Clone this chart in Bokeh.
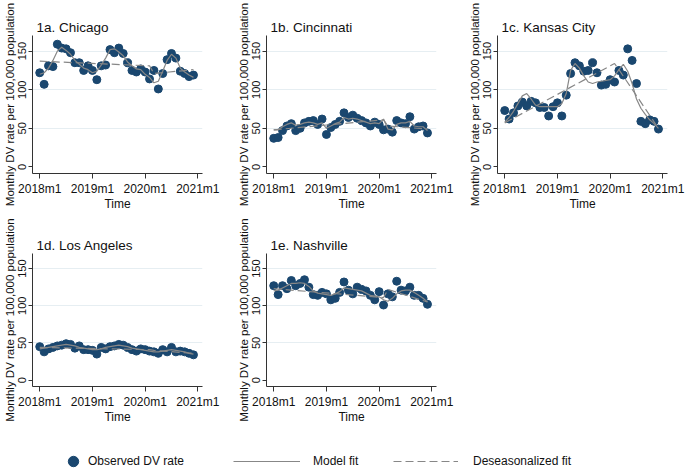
from bokeh.plotting import figure
from bokeh.layouts import column, row
from bokeh.models import Range1d, FixedTicker, Legend, LegendItem
from bokeh.embed import file_html
from bokeh.resources import INLINE

# ---------------- data ----------------
months = list(range(36))                      # 2018m1 ... 2020m12 (time index)
x_tick_pos = [0, 12, 24, 36]
x_tick_labels = ["2018m1", "2019m1", "2020m1", "2021m1"]
y_ticks = [0, 50, 100, 150]
ds_months = [0, 25, 26, 35]                   # deseasonalized fit break points (2020m3 interruption)

titles = ["1a. Chicago", "1b. Cincinnati", "1c. Kansas City", "1d. Los Angeles", "1e. Nashville"]

chi_obs = [122, 107, 131, 130, 159, 154, 153, 148, 135, 135, 125, 131,
           125, 113, 131, 132, 152, 148, 154, 147, 135, 125, 123, 127,
           123, 114, 125, 101, 121, 139, 147, 141, 124, 121, 117, 119]
chi_fit = [120, 122, 128, 138, 150, 155, 151, 146, 138, 133, 128, 126,
           122, 124, 132, 141, 152, 153, 149, 144, 136, 131, 127, 126,
           120, 116, 109, 111, 124, 138, 146, 141, 128, 123, 119, 116]
chi_ds = [137, 131, 121, 126]

cin_obs = [37, 38, 47, 53, 56, 47, 50, 57, 59, 60, 55, 62,
           42, 51, 55, 59, 70, 64, 67, 63, 60, 57, 53, 58,
           55, 48, 49, 45, 60, 57, 56, 65, 49, 52, 53, 44]
cin_fit = [48, 48, 52, 55, 57, 54, 55, 57, 58, 57, 55, 57,
           50, 53, 56, 58, 64, 62, 63, 62, 60, 58, 56, 57,
           56, 62, 49, 48, 55, 57, 57, 59, 53, 52, 52, 47]
cin_ds = [48, 61, 53, 49]

kc_obs = [73, 62, 70, 79, 84, 79, 85, 83, 77, 77, 66, 78,
          83, 66, 93, 121, 135, 131, 124, 125, 135, 122, 106, 107,
          113, 110, 125, 119, 153, 138, 108, 59, 56, 61, 59, 49]
kc_fit = [58, 64, 72, 82, 92, 95, 88, 80, 78, 78, 78, 78,
          78, 82, 95, 125, 134, 128, 118, 110, 108, 110, 111, 112,
          113, 118, 126, 133, 124, 108, 88, 76, 68, 61, 56, 50]
kc_ds = [57, 134, 126, 50]

la_obs = [45, 38, 42, 44, 46, 47, 49, 48, 43, 46, 41, 41,
          40, 35, 44, 42, 45, 46, 48, 47, 44, 41, 39, 42,
          41, 39, 38, 36, 41, 38, 44, 38, 39, 38, 36, 34]
la_fit = [42, 43, 44, 45, 46, 47, 48, 47, 46, 44, 43, 42,
          41, 41, 42, 44, 45, 46, 47, 46, 45, 43, 42, 41,
          40, 39, 38, 38, 39, 40, 41, 40, 39, 38, 36, 35]
la_ds = [44, 41, 40, 36]

nash_obs = [127, 115, 127, 123, 134, 127, 130, 135, 125, 115, 114, 118,
            116, 108, 110, 118, 132, 121, 116, 125, 122, 120, 114, 108,
            119, 101, 116, 112, 133, 121, 120, 125, 114, 114, 110, 102]
nash_fit = [120, 121, 124, 127, 130, 130, 131, 130, 126, 120, 117, 116,
            115, 114, 116, 119, 124, 123, 122, 121, 120, 117, 114, 113,
            112, 108, 106, 110, 116, 120, 121, 121, 118, 114, 110, 105]
nash_ds = [123, 111, 122, 105]

legend_labels = ["Observed DV rate", "Model fit", "Deseasonalized fit"]

# ---------------- style ----------------
FONT = "Liberation Sans"
NAVY = "#1a476f"
GRAY = "#878787"
GRID = "#e6eef2"
AXIS = "#333333"
FRAME_W = 170
FRAME_H = 138


def panel(title, obs, fit, ds, left, right, top, bottom):
    p = figure(width=left + FRAME_W + right, height=top + FRAME_H + bottom,
               x_range=Range1d(-1.65, 37.06), y_range=Range1d(-8.6, 170.3),
               output_backend="svg", toolbar_location=None, title=title,
               min_border_left=left, min_border_right=right,
               min_border_top=top, min_border_bottom=bottom)
    p.scatter(months, obs, size=8, fill_color=NAVY, line_color=NAVY)
    p.line(months, fit, line_color=GRAY, line_width=1.2)
    p.line(ds_months, ds, line_color=GRAY, line_width=1.2, line_dash="8 4")

    p.title.text_font = FONT
    p.title.text_font_size = "13.5px"
    p.title.text_font_style = "normal"
    p.title.text_color = "#111111"
    p.title.offset = 4
    p.title.standoff = 2

    p.outline_line_color = None
    p.background_fill_color = "white"
    p.border_fill_color = "white"
    p.xgrid.visible = False
    p.ygrid.ticker = FixedTicker(ticks=y_ticks[1:])
    p.ygrid.grid_line_color = GRID
    p.ygrid.grid_line_width = 1

    p.xaxis.ticker = FixedTicker(ticks=x_tick_pos)
    p.xaxis.major_label_overrides = dict(zip(x_tick_pos, x_tick_labels))
    p.xaxis.axis_label = "Time"
    p.yaxis.ticker = FixedTicker(ticks=y_ticks)
    p.yaxis.major_label_orientation = "vertical"
    p.yaxis.axis_label = "Monthly DV rate per 100,000 population"

    for ax in (p.xaxis[0], p.yaxis[0]):
        ax.axis_line_color = AXIS
        ax.axis_line_width = 1
        ax.major_tick_line_color = AXIS
        ax.major_tick_out = 5
        ax.major_tick_in = 0
        ax.minor_tick_line_color = None
        ax.major_label_text_font = FONT
        ax.major_label_text_color = "#111111"
        ax.axis_label_text_font = FONT
        ax.axis_label_text_font_style = "normal"
        ax.axis_label_text_color = "#111111"
    p.xaxis.major_label_text_font_size = "12px"
    p.xaxis.major_label_standoff = 3
    p.xaxis.axis_label_text_font_size = "12px"
    p.xaxis.axis_label_standoff = -2
    p.yaxis.major_label_text_font_size = "11px"
    p.yaxis.major_label_standoff = 2
    p.yaxis.major_tick_out = 4
    p.yaxis.axis_label_text_font_size = "11.5px"
    p.yaxis.axis_label_standoff = 0
    return p


p1 = panel(titles[0], chi_obs, chi_fit, chi_ds, 32, 32, 35, 45)
p2 = panel(titles[1], cin_obs, cin_fit, cin_ds, 32, 29, 35, 45)
p3 = panel(titles[2], kc_obs, kc_fit, kc_ds, 32, 18, 35, 45)
p4 = panel(titles[3], la_obs, la_fit, la_ds, 32, 32, 35, 35)
p5 = panel(titles[4], nash_obs, nash_fit, nash_ds, 32, 29, 35, 35)

# ---------------- legend strip ----------------
lg = figure(width=685, height=43, x_range=Range1d(0, 1), y_range=Range1d(0, 1),
            output_backend="svg", toolbar_location=None,
            x_axis_location=None, y_axis_location=None,
            min_border_left=0, min_border_right=0, min_border_top=0, min_border_bottom=0)
lg.outline_line_color = None
lg.grid.visible = False
nan = float("nan")
r_obs = lg.scatter(x=[nan], y=[nan], size=8, fill_color=NAVY, line_color=NAVY)
r_fit = lg.line(x=[nan], y=[nan], line_color=GRAY, line_width=1.2)
r_ds = lg.line(x=[nan], y=[nan], line_color=GRAY, line_width=1.2, line_dash="8 4")


def make_legend(label, rend, loc, gw, standoff):
    leg = Legend(items=[LegendItem(label=label, renderers=[rend])], location=loc,
                 glyph_width=gw, glyph_height=26, label_standoff=standoff,
                 label_text_font=FONT, label_text_font_size="12px", label_text_color="#111111",
                 padding=0, margin=0, spacing=0, border_line_color=None,
                 background_fill_alpha=0)
    lg.add_layout(leg)


make_legend(legend_labels[0], r_obs, (59, -5), 28, 1)
make_legend(legend_labels[1], r_fit, (233, -5), 67, 13)
make_legend(legend_labels[2], r_ds, (393, -5), 65, 15)

layout = column(row(p1, p2, p3), row(p4, p5), lg)

open("out.html", "w").write(file_html(layout, INLINE))
